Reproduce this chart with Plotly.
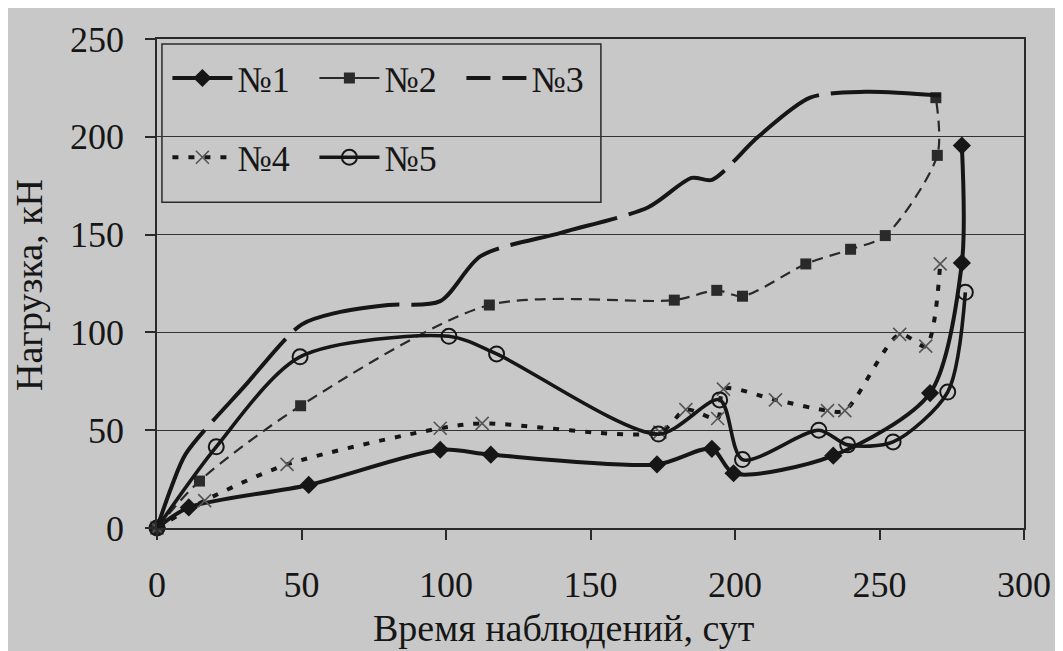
import plotly.graph_objects as go

# ---- data ----
x1 = [0, 11, 52.5, 98, 115.5, 173, 192, 199.5, 234, 267.5, 278.5, 278.5]
y1 = [0, 10.5, 22, 40, 37.5, 32.5, 40.5, 28, 37, 69, 135.5, 195.5]

x2 = [0, 14.7, 49.7, 115, 179, 193.7, 202.6, 224.5, 240, 252, 270, 269.5]
y2 = [0, 24, 62.5, 114, 116.5, 121.5, 118.5, 135, 142.5, 149.5, 190.5, 220]

x3 = [0, 5, 10, 30, 50, 62, 80, 98, 112, 140, 170, 185, 192, 208, 226, 245, 272]
y3 = [0, 21, 38, 72, 104, 110, 114, 116, 139, 151, 164, 179, 178, 200, 220, 223, 221]

x4 = [0, 16.5, 45, 98, 112.5, 174, 183, 194, 196, 214, 232, 238, 257, 266, 271]
y4 = [0, 14, 32.5, 51, 53.5, 49, 60.5, 56, 71, 65.5, 60, 60, 99, 93, 135]

x5 = [0, 20.5, 49.5, 101, 117.5, 173.5, 194.7, 202.6, 229, 239, 254.7, 273.6, 279.7]
y5 = [0, 41.5, 87.5, 98, 89, 48, 65.5, 35, 50, 42.5, 44, 69.5, 120.5]

names = ["№1", "№2", "№3", "№4", "№5"]
x_ticks = [0, 50, 100, 150, 200, 250, 300]
y_ticks = [0, 50, 100, 150, 200, 250]
x_title = "Время наблюдений, сут"
y_title = "Нагрузка, кН"

BG = "#c8c8c8"
INK = "#161616"
FONT = "Liberation Serif, Times New Roman, serif"

fig = go.Figure()

# №1
fig.add_trace(go.Scatter(
    x=x1, y=y1, name=names[0], mode="lines+markers", legend="legend",
    line=dict(color=INK, width=4, shape="spline", smoothing=0.8),
    marker=dict(symbol="diamond", size=14, color=INK),
    cliponaxis=False))

# №2 (plot trace + legend sample)
fig.add_trace(go.Scatter(
    x=x2, y=y2, name=names[1], mode="lines+markers", showlegend=False,
    line=dict(color="#2a2a2a", width=2.2, dash="11px,7px", shape="spline", smoothing=0.8),
    marker=dict(symbol="square", size=11, color="#2a2a2a"),
    cliponaxis=False))
fig.add_trace(go.Scatter(
    x=[None], y=[None], name=names[1], mode="lines+markers", legend="legend",
    line=dict(color="#2a2a2a", width=2.2),
    marker=dict(symbol="square", size=11, color="#2a2a2a")))

# №3 (plot trace + legend sample)
fig.add_trace(go.Scatter(
    x=x3, y=y3, name=names[2], mode="lines", showlegend=False,
    line=dict(color=INK, width=4, dash="110px,12px", shape="spline", smoothing=0.8),
    cliponaxis=False))
fig.add_trace(go.Scatter(
    x=[None], y=[None], name=names[2], mode="lines", legend="legend",
    line=dict(color=INK, width=4, dash="24px,12px")))

# №4
fig.add_trace(go.Scatter(
    x=x4, y=y4, name=names[3], mode="lines+markers", legend="legend2",
    line=dict(color=INK, width=4, dash="6px,10px", shape="spline", smoothing=0.8),
    marker=dict(symbol="x-thin-open", size=13, color="#555555", line=dict(width=1.6, color="#555555")),
    cliponaxis=False))

# №5
fig.add_trace(go.Scatter(
    x=x5, y=y5, name=names[4], mode="lines+markers", legend="legend2",
    line=dict(color=INK, width=3.6, shape="spline", smoothing=0.8),
    marker=dict(symbol="circle-open", size=15, color=INK, line=dict(width=2, color=INK)),
    cliponaxis=False))

legend_common = dict(
    orientation="h", xanchor="left", yanchor="middle",
    bgcolor="rgba(0,0,0,0)", borderwidth=0,
    font=dict(family=FONT, size=36, color=INK),
    itemwidth=60, entrywidth=72, entrywidthmode="pixels",
    tracegroupgap=0, itemclick=False, itemdoubleclick=False)

fig.update_layout(
    width=1055, height=643,
    margin=dict(l=149, r=31, t=20, b=123),
    paper_bgcolor=BG, plot_bgcolor=BG,
    font=dict(family=FONT, color=INK),
    legend=dict(x=0.012, y=0.92, **legend_common),
    legend2=dict(x=0.012, y=0.758, **legend_common),
    shapes=[dict(type="rect", xref="paper", yref="paper",
                 x0=0.0057, x1=0.512, y0=0.666, y1=0.99,
                 line=dict(color="#2a2a2a", width=1.5), fillcolor=BG, layer="between")],
    annotations=[
        dict(text=x_title, xref="paper", yref="paper", x=0.47, y=-0.205,
             xanchor="center", yanchor="middle", showarrow=False,
             font=dict(family=FONT, size=38, color=INK)),
        dict(text=y_title, xref="paper", yref="paper", x=-0.147, y=0.496,
             xanchor="center", yanchor="middle", showarrow=False, textangle=-90,
             font=dict(family=FONT, size=38, color=INK)),
    ],
)

fig.update_xaxes(
    range=[0, 300], tickvals=x_ticks, ticks="outside", ticklen=10, tickwidth=1.5,
    tickcolor="#2a2a2a", showgrid=False, zeroline=False,
    showline=True, mirror=True, linecolor="#2a2a2a", linewidth=1.5,
    tickfont=dict(family=FONT, size=36, color=INK), ticklabelstandoff=14)

fig.update_yaxes(
    range=[0, 250], tickvals=y_ticks, ticks="outside", ticklen=10, tickwidth=1.5,
    tickcolor="#2a2a2a", showgrid=True, gridcolor="#333333", gridwidth=1.2, zeroline=False,
    showline=True, mirror=True, linecolor="#2a2a2a", linewidth=1.5,
    tickfont=dict(family=FONT, size=36, color=INK), ticklabelstandoff=14)

fig.write_html("out.html")
